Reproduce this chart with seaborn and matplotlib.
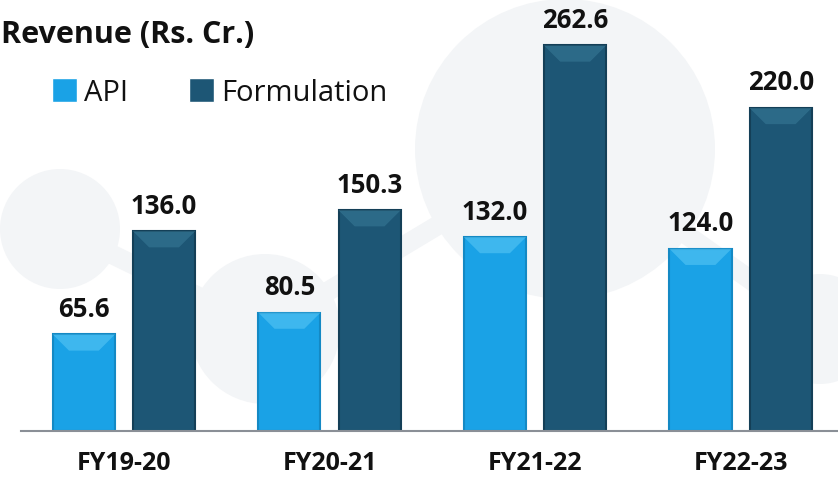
import numpy as np
import pandas as pd
import seaborn as sns
import matplotlib.pyplot as plt
from matplotlib.patches import Polygon, Ellipse

years = ["FY19-20", "FY20-21", "FY21-22", "FY22-23"]
api = [65.6, 80.5, 132.0, 124.0]
formulation = [136.0, 150.3, 262.6, 220.0]
segments = ["API", "Formulation"]

colors = ["#1aa2e6", "#1d5675"]
edge_colors = ["#1489c4", "#143f57"]
bevel_colors = ["#5cc9f6", "#3a7c99"]

df = pd.DataFrame({
    "year": years * 2,
    "value": api + formulation,
    "segment": ["API"] * len(years) + ["Formulation"] * len(years),
})

sns.set_theme(style="white")
plt.rcParams["font.family"] = ["Open Sans", "DejaVu Sans"]

W, H = 838, 485
fig = plt.figure(figsize=(W / 100, H / 100), dpi=100)

#%% faint background watermark (own axes, behind everything)
bg = fig.add_axes([0, 0, 1, 1], zorder=0)
bg.set_xlim(0, W)
bg.set_ylim(H, 0)
bg.axis("off")
nodes = [(60, 230, 60), (265, 330, 75), (565, 150, 150), (820, 330, 55)]
for (x0, y0, _), (x1, y1, _) in zip(nodes[:-1], nodes[1:]):
    bg.plot([x0, x1], [y0, y1], color="#f3f5f7", lw=14, solid_capstyle="round")
for cx, cy, r in nodes:
    bg.add_patch(Ellipse((cx, cy), 2 * r, 2 * r, facecolor="#f3f5f7", edgecolor="none"))

#%% bars
ax = fig.add_axes([21 / W, 53.3 / H, 1 - 21 / W, 431.7 / H], zorder=2)
ax.patch.set_alpha(0)
sns.barplot(data=df, x="year", y="value", hue="segment", hue_order=segments,
            palette=colors, saturation=1, width=0.78, gap=0.225, ax=ax, zorder=2)

ax.set_xlim(-0.501, 3.474)
ax.set_ylim(0, 294.3)

bevel_h = 11
for cont, ec, bc in zip(ax.containers, edge_colors, bevel_colors):
    for bar in cont:
        bar.set_edgecolor(ec)
        bar.set_linewidth(1.5)
        x0 = bar.get_x()
        w = bar.get_width()
        top = bar.get_height()
        inset = w * 0.26
        ax.add_patch(Polygon([(x0, top), (x0 + w, top), (x0 + w - inset, top - bevel_h),
                              (x0 + inset, top - bevel_h)], closed=True,
                             facecolor=bc, edgecolor="none", alpha=0.55, zorder=3))
    ax.bar_label(cont, fmt="%.1f", padding=9, fontsize=18.5, fontweight="bold", color="#111111")

ax.set_xlabel("")
ax.set_ylabel("")
ax.set_yticks([])
for s in ["top", "left", "right"]:
    ax.spines[s].set_visible(False)
ax.spines["bottom"].set_color("#8a8f96")
ax.spines["bottom"].set_linewidth(1.5)
ax.tick_params(axis="x", length=0, pad=14)
for t in ax.get_xticklabels():
    t.set_fontsize(18)
    t.set_fontweight("bold")
    t.set_color("#111111")

#%% title and legend
fig.text(0.5 / W, 1 - 43 / H, "Revenue (Rs. Cr.)", fontsize=22, fontweight="bold",
         color="#111111", va="baseline", ha="left")

handles, labels = ax.get_legend_handles_labels()
ax.get_legend().remove()
leg = fig.legend(handles, labels, loc="upper left", bbox_to_anchor=(52 / W, 1 - 79 / H),
                 ncol=2, frameon=False, fontsize=21, handlelength=0.85, handleheight=0.85,
                 handletextpad=0.25, columnspacing=2.1, borderpad=0, borderaxespad=0)
for t in leg.get_texts():
    t.set_color("#111111")

fig.savefig("out.png", dpi=100)
